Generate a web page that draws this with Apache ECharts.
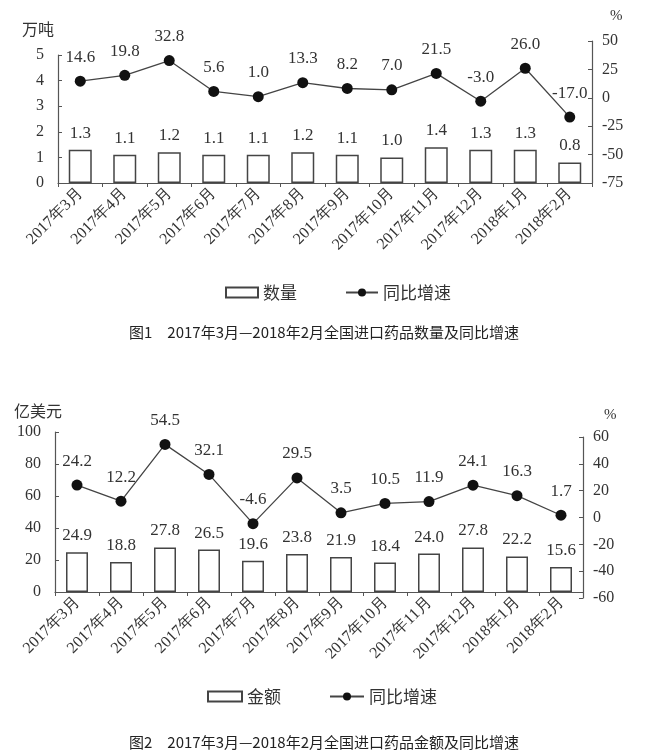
<!DOCTYPE html>
<html><head><meta charset="utf-8">
<script src="https://cdn.jsdelivr.net/npm/echarts@6/dist/echarts.min.js"></script>
<style>html,body{margin:0;padding:0;background:#fff}#c{width:648px;height:756px}</style>
</head><body><div id="c"></div>
<script>
const months = ['2017年3月','2017年4月','2017年5月','2017年6月','2017年7月','2017年8月','2017年9月','2017年10月','2017年11月','2017年12月','2018年1月','2018年2月'];
const quantity = [1.3,1.1,1.2,1.1,1.1,1.2,1.1,1.0,1.4,1.3,1.3,0.8];
const quantityGrowth = [14.6,19.8,32.8,5.6,1.0,13.3,8.2,7.0,21.5,-3.0,26.0,-17.0];
const amount = [24.9,18.8,27.8,26.5,19.6,23.8,21.9,18.4,24.0,27.8,22.2,15.6];
const amountGrowth = [24.2,12.2,54.5,32.1,-4.6,29.5,3.5,10.5,11.9,24.1,16.3,1.7];
const title1 = '图1　2017年3月—2018年2月全国进口药品数量及同比增速';
const title2 = '图2　2017年3月—2018年2月全国进口药品金额及同比增速';

const SERIF = '"Liberation Serif","DejaVu Serif",serif';
const CJK = '"Noto Sans CJK SC","Noto Sans",sans-serif';
const AX = '#555';
const TXT = '#333';

function catAxis(gridIndex, show) {
  return {
    type: 'category', gridIndex, data: months, show: show,
    axisLine: {lineStyle: {color: AX, width: 1.2}},
    axisTick: {show: true, length: 4, lineStyle: {color: AX}},
    axisLabel: {rotate: 45, fontFamily: SERIF, fontSize: 16, color: TXT, margin: 8, interval: 0},
    splitLine: {show: false}
  };
}
function valAxis(gridIndex, pos, min, max, interval) {
  return {
    type: 'value', gridIndex, position: pos, min, max, interval,
    axisLine: {show: true, lineStyle: {color: AX, width: 1.2}},
    axisTick: {show: true, inside: true, length: 4, lineStyle: {color: AX}},
    axisLabel: {fontFamily: SERIF, fontSize: 16, color: TXT, margin: pos === 'left' ? 14 : 10},
    splitLine: {show: false}
  };
}

const option = {
  animation: false,
  backgroundColor: '#fff',
  title: [
    {text: title1, left: 'center', top: 320, textStyle: {fontFamily: CJK, fontSize: 15, fontWeight: 'normal', color: '#222'}},
    {text: title2, left: 'center', top: 730, textStyle: {fontFamily: CJK, fontSize: 15, fontWeight: 'normal', color: '#222'}}
  ],
  legend: [
    {data: [{name: '数量', icon: 'rect'}, {name: '同比增速'}], top: 279, left: 220, itemWidth: 32, itemHeight: 10, itemGap: 48,
     textStyle: {fontFamily: CJK, fontSize: 17, color: TXT}},
    {data: [{name: '金额', icon: 'rect'}, {name: '同比增速'}], top: 683, left: 202, itemWidth: 34, itemHeight: 10, itemGap: 48,
     textStyle: {fontFamily: CJK, fontSize: 17, color: TXT}}
  ],
  graphic: [
    {type: 'text', left: 22, top: 21, style: {text: '万吨', font: '16px ' + CJK, fill: TXT}},
    {type: 'text', left: 610, top: 9, style: {text: '%', font: '15px ' + SERIF, fill: TXT}},
    {type: 'text', left: 14, top: 403, style: {text: '亿美元', font: '16px ' + CJK, fill: TXT}},
    {type: 'text', left: 604, top: 408, style: {text: '%', font: '15px ' + SERIF, fill: TXT}}
  ],
  grid: [
    {left: 58, right: 56, top: 55, height: 128},
    {left: 58, right: 56, top: 41, height: 142},
    {left: 55, right: 65, top: 432, height: 160},
    {left: 55, right: 65, top: 437, height: 161}
  ],
  xAxis: [catAxis(0, true), catAxis(1, false), catAxis(2, true), catAxis(3, false)],
  yAxis: [
    valAxis(0, 'left', 0, 5, 1),
    valAxis(1, 'right', -75, 50, 25),
    valAxis(2, 'left', 0, 100, 20),
    valAxis(3, 'right', -60, 60, 20)
  ],
  series: [
    {name: '数量', type: 'bar', xAxisIndex: 0, yAxisIndex: 0, data: quantity, barWidth: 23,
     itemStyle: {color: '#fff', borderColor: '#444', borderWidth: 1.5},
     label: {show: true, position: 'top', distance: 8, formatter: p => p.value.toFixed(1), fontFamily: SERIF, fontSize: 17, color: TXT}},
    {name: '同比增速', type: 'line', xAxisIndex: 1, yAxisIndex: 1, data: quantityGrowth,
     symbol: 'circle', symbolSize: 11, itemStyle: {color: '#111'}, lineStyle: {color: '#444', width: 1.3},
     label: {show: true, position: 'top', distance: 10, formatter: p => p.value.toFixed(1), fontFamily: SERIF, fontSize: 17, color: TXT}},
    {name: '金额', type: 'bar', xAxisIndex: 2, yAxisIndex: 2, data: amount, barWidth: 22,
     itemStyle: {color: '#fff', borderColor: '#444', borderWidth: 1.5},
     label: {show: true, position: 'top', distance: 8, formatter: p => p.value.toFixed(1), fontFamily: SERIF, fontSize: 17, color: TXT}},
    {name: '同比增速', type: 'line', xAxisIndex: 3, yAxisIndex: 3, data: amountGrowth,
     symbol: 'circle', symbolSize: 11, itemStyle: {color: '#111'}, lineStyle: {color: '#444', width: 1.3},
     label: {show: true, position: 'top', distance: 10, formatter: p => p.value.toFixed(1), fontFamily: SERIF, fontSize: 17, color: TXT}}
  ]
};
const chart = echarts.init(document.getElementById('c'), null, {renderer: 'canvas'});
chart.setOption(option);
</script></body></html>
